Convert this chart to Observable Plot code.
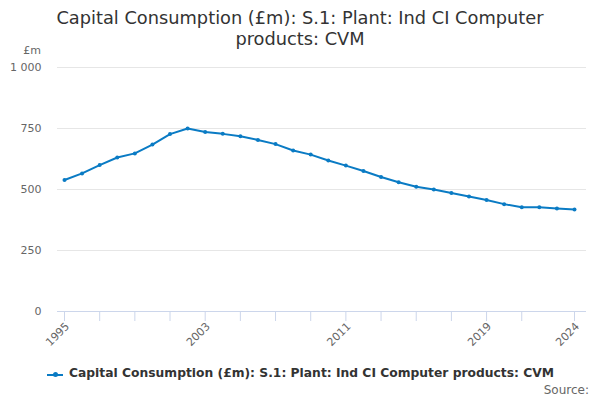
<!DOCTYPE html>
<html>
<head>
<meta charset="utf-8">
<script src="https://cdn.jsdelivr.net/npm/d3@7"></script>
<script src="https://cdn.jsdelivr.net/npm/@observablehq/plot@0.6"></script>
<style>
  html, body { margin: 0; padding: 0; background: #fff; }
  #wrap { position: relative; width: 600px; height: 400px; overflow: hidden; font-family: "DejaVu Sans", sans-serif; }
  #title { position: absolute; left: 0; top: 7px; width: 600px; text-align: center; font-size: 17.8px; line-height: 21px; color: #333333; }
  #unit { position: absolute; left: 0; top: 44px; width: 41px; text-align: right; font-size: 11px; color: #666666; }
  #chart { position: absolute; left: 0; top: 40px; }
  #legend { position: absolute; left: 0; top: 366px; width: 600px; font-size: 12.3px; font-weight: bold; color: #333333; }
  #legend .sym { position: absolute; left: 47px; top: 8px; width: 16px; height: 2px; background: #0a7bc4; }
  #legend .dot { position: absolute; left: 53px; top: 6px; width: 5px; height: 5px; border-radius: 50%; background: #0a7bc4; }
  #legend .txt { position: absolute; left: 69px; top: 0px; white-space: nowrap; }
  #source { position: absolute; right: 11px; top: 383px; font-size: 12px; color: #666666; }
</style>
</head>
<body>
<div id="wrap">
  <div id="title">Capital Consumption (£m): S.1: Plant: Ind CI Computer<br>products: CVM</div>
  <div id="unit">£m</div>
  <div id="chart"></div>
  <div id="legend"><div class="sym"></div><div class="dot"></div><div class="txt">Capital Consumption (£m): S.1: Plant: Ind CI Computer products: CVM</div></div>
  <div id="source">Source:</div>
</div>
<script>
const years = [1995,1996,1997,1998,1999,2000,2001,2002,2003,2004,2005,2006,2007,2008,2009,2010,2011,2012,2013,2014,2015,2016,2017,2018,2019,2020,2021,2022,2023,2024];
const values = [539,566,600,631,648,684,727,750,736,728,718,703,686,660,643,619,598,576,551,530,511,500,486,471,457,440,427,427,422,418];
const xTickYears = [1995,1997,1999,2001,2003,2005,2007,2009,2011,2013,2015,2017,2019,2021,2024];
const xLabelYears = [1995,2003,2011,2019,2024];
const yTicks = [0,250,500,750,1000];
const seriesName = "Capital Consumption (£m): S.1: Plant: Ind CI Computer products: CVM";

const data = years.map((y, i) => ({year: y, value: values[i]}));
const fmt = v => v >= 1000 ? d3.format(",")(v).replace(",", " ") : String(v);

const chart = Plot.plot({
  width: 600,
  height: 310,
  marginTop: 27,
  marginBottom: 39,
  marginLeft: 57,
  marginRight: 14,
  style: {fontFamily: "DejaVu Sans, sans-serif", fontSize: "11px", color: "#666666", background: "transparent"},
  x: {domain: [1995, 2024], insetLeft: 7, insetRight: 12},
  y: {domain: [0, 1000]},
  marks: [
    Plot.gridY(yTicks, {stroke: "#e6e6e6", strokeOpacity: 1}),
    Plot.axisY(yTicks, {tickSize: 0, tickPadding: 16, tickFormat: fmt, label: null, fill: "#666666"}),
    Plot.ruleY([0], {stroke: "#ccd6eb", strokeWidth: 1}),
    Plot.axisX(xTickYears, {tickSize: 10, tickFormat: () => "", stroke: "#ccd6eb", label: null}),
    Plot.axisX(xLabelYears, {tickSize: 0, tickPadding: 13, dx: 3, tickRotate: -45, tickFormat: d => String(d), label: null, fill: "#666666"}),
    Plot.line(data, {x: "year", y: "value", stroke: "#0a7bc4", strokeWidth: 2}),
    Plot.dot(data, {x: "year", y: "value", r: 2, fill: "#0a7bc4", title: d => `${seriesName} ${d.year}: ${d.value}`})
  ]
});
document.getElementById("chart").appendChild(chart);
</script>
</body>
</html>
